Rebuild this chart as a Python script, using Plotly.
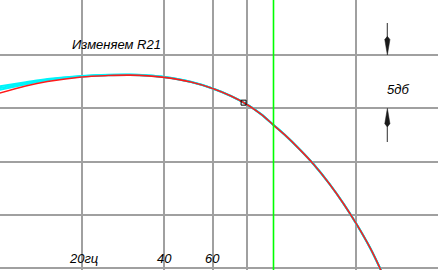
import numpy as np
import plotly.graph_objects as go

# Frequency (Hz) and response (dB)
freq = [10, 12.5, 15, 20, 25, 30, 35, 40, 50, 60, 70, 80, 90, 100, 110, 125, 140, 160, 180, 200, 225, 250]
red_db = [1.41, 2.09, 2.51, 2.94, 3.07, 3.11, 3.04, 2.90, 2.47, 1.86, 1.15, 0.36, -0.55, -1.57,
          -2.5, -3.9, -5.25, -7.1, -8.95, -10.8, -13.1, -15.55]
cyan_a_db = [2.06, 2.45, 2.75, 3.03, 3.14, 3.16, 3.08, 2.94, 2.49, 1.87, 1.16, 0.37, -0.54, -1.56,
             -2.49, -3.89, -5.24, -7.09, -8.94, -10.79, -13.09, -15.54]
cyan_b_db = [1.89, 2.35, 2.68, 3.00, 3.12, 3.14, 3.07, 2.93, 2.48, 1.86, 1.15, 0.36, -0.55, -1.57,
             -2.5, -3.9, -5.25, -7.1, -8.95, -10.8, -13.1, -15.55]
cyan_c_db = [1.72, 2.25, 2.62, 2.98, 3.10, 3.13, 3.06, 2.92, 2.47, 1.86, 1.15, 0.36, -0.55, -1.57,
             -2.5, -3.9, -5.25, -7.1, -8.95, -10.8, -13.1, -15.55]

grid_freqs = [20, 40, 60, 80, 200]
grid_db = [-15, -10, -5, 0, 5]
cutoff_freq = 100
marker_point = (77.8, 0.53)

freq_labels = ["20гц", "40", "60"]
freq_label_pos = [20.35, 40.2, 60]

W, H = 438, 270
X_RANGE = [1.00329, 2.5995]
Y_RANGE = [-15.17, 10.16]

fig = go.Figure()

for vals in (cyan_a_db, cyan_b_db, cyan_c_db):
    fig.add_trace(go.Scatter(x=freq, y=vals, mode="lines",
                             line=dict(color="#00f4fa", width=2.0, shape="spline"), hoverinfo="skip"))
fig.add_trace(go.Scatter(x=freq, y=red_db, mode="lines", line=dict(color="#ff1a1a", width=1.6, shape="spline"),
                         hoverinfo="skip"))
fig.add_trace(go.Scatter(x=[cutoff_freq, cutoff_freq], y=[-30, 30], mode="lines",
                         line=dict(color="#00ff00", width=1.6), hoverinfo="skip"))
fig.add_trace(go.Scatter(x=[marker_point[0]], y=[marker_point[1]], mode="markers",
                         marker=dict(symbol="square-open", size=5, color="black", line=dict(width=1)),
                         hoverinfo="skip"))

italic = dict(family="Liberation Sans, Arial, sans-serif", size=13, color="#000000", style="italic")

annotations = [
    dict(x=np.log10(26.7), y=6.03, text="Изменяем R21", showarrow=False, font=italic,
         xanchor="center", yanchor="middle"),
    dict(x=np.log10(284), y=1.72, text="5дб", showarrow=False, font=italic,
         xanchor="center", yanchor="middle"),
]
for lab, pos in zip(freq_labels, freq_label_pos):
    annotations.append(dict(x=np.log10(pos), y=-14.07, text=lab, showarrow=False,
                            font=italic, xanchor="center", yanchor="middle"))


# helpers: data -> paper coordinates (plot area fills the whole page)
def px(f):
    return (np.log10(f) - X_RANGE[0]) / (X_RANGE[1] - X_RANGE[0])


def py(db):
    return (db - Y_RANGE[0]) / (Y_RANGE[1] - Y_RANGE[0])


# dimension arrows marking 5 dB (tip, tail) in dB at 260 Hz
arrow_f = 260
head_len_db = 1.45
head_half_w = 2.6 / W
shapes = []
for tip, tail in [(5, 8.0), (0, -3.16)]:
    d = 1 if tail > tip else -1
    base = tip + d * head_len_db
    x0 = px(arrow_f)
    shapes.append(dict(type="line", xref="paper", yref="paper", x0=x0, x1=x0, y0=py(tail), y1=py(base),
                       line=dict(color="#5a5a5a", width=1.3)))
    path = (f"M {x0 - head_half_w},{py(base)} L {x0},{py(tip)} L {x0 + head_half_w},{py(base)} "
            f"L {x0},{py(base + d * 0.3)} Z")
    shapes.append(dict(type="path", xref="paper", yref="paper", path=path,
                       fillcolor="#1a1a1a", line=dict(color="#1a1a1a", width=0.5)))

fig.update_layout(
    width=W, height=H,
    margin=dict(l=0, r=0, t=0, b=0),
    paper_bgcolor="white", plot_bgcolor="white",
    showlegend=False,
    annotations=annotations,
    shapes=shapes,
    xaxis=dict(type="log", range=X_RANGE, tickvals=grid_freqs, showticklabels=False,
               ticks="", showgrid=True, gridcolor="#a0a0a0", gridwidth=1.6, zeroline=False,
               showline=False),
    yaxis=dict(range=Y_RANGE, tickvals=grid_db, showticklabels=False, ticks="",
               showgrid=True, gridcolor="#a0a0a0", gridwidth=1.6, zeroline=False, showline=False),
)

fig.write_html("out.html")
